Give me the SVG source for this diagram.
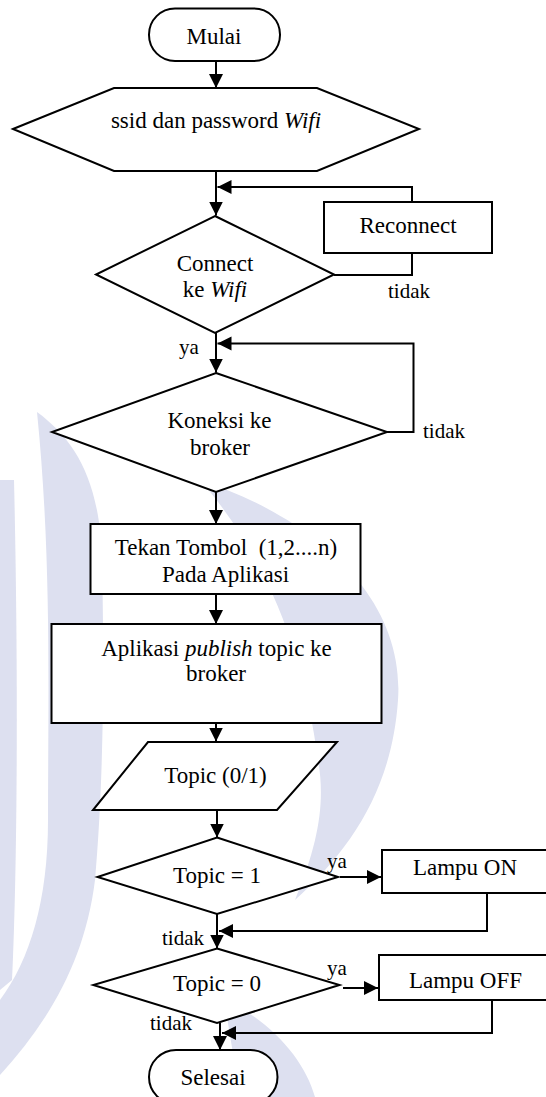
<svg xmlns="http://www.w3.org/2000/svg" width="546" height="1097" viewBox="0 0 546 1097">
<style>
.s{fill:#fff;stroke:#000;stroke-width:2}
.c{fill:none;stroke:#000;stroke-width:2}
.t{font-family:"Liberation Serif","Times New Roman",serif;font-size:23px;fill:#000;text-anchor:middle}
.l{font-family:"Liberation Serif","Times New Roman",serif;font-size:21px;fill:#000}
.i{font-style:italic}
.wm{fill:#dde0f0;stroke:none}
</style>
<defs>
<marker id="ah" markerUnits="userSpaceOnUse" markerWidth="15" markerHeight="15" refX="14" refY="7" orient="auto">
<path d="M0,0 L14,7 L0,14 Z" fill="#000"/>
</marker>
</defs>
<rect width="546" height="1097" fill="#fff"/>
<g id="watermark">
<path class="wm" d="M200,480 C320,520 405,600 398,700 C392,790 350,850 295,900 C320,840 325,800 318,760 C305,660 270,560 200,480 Z"/>
<path class="wm" d="M37,412 C75,440 100,480 102,560 C105,700 102,800 95,880 C85,960 50,1020 0,1075 L0,1000 C30,960 48,900 48,820 C48,700 52,560 37,412 Z"/>
<path class="wm" d="M0,480 L14,480 C18,650 18,850 12,980 L0,990 Z"/>
<path class="wm" d="M225,1000 C270,1020 305,1060 315,1097 L240,1097 C235,1060 228,1030 225,1000 Z"/>
</g>
<g id="connectors">
<path class="c" d="M216,61 V88" marker-end="url(#ah)"/>
<path class="c" d="M216,171 V215.5" marker-end="url(#ah)"/>
<path class="c" d="M412,202 V187 H217.5" marker-end="url(#ah)"/>
<path class="c" d="M334,275 H412 V253"/>
<path class="c" d="M216,333 V372.5" marker-end="url(#ah)"/>
<path class="c" d="M387,432 H413.5 V343.5 H217.5" marker-end="url(#ah)"/>
<path class="c" d="M216,492 V524" marker-end="url(#ah)"/>
<path class="c" d="M216,594 V624" marker-end="url(#ah)"/>
<path class="c" d="M216,723 V741.5" marker-end="url(#ah)"/>
<path class="c" d="M217,810 V837.5" marker-end="url(#ah)"/>
<path class="c" d="M340,877 H381" marker-end="url(#ah)"/>
<path class="c" d="M487,893 V931 H219" marker-end="url(#ah)"/>
<path class="c" d="M217,914 V948.5" marker-end="url(#ah)"/>
<path class="c" d="M343,988 H378" marker-end="url(#ah)"/>
<path class="c" d="M492,1000 V1033 H222" marker-end="url(#ah)"/>
<path class="c" d="M220,1023 V1050" marker-end="url(#ah)"/>
</g>
<g id="mulai">
<rect class="s" x="149" y="8.5" width="131" height="52.5" rx="26"/>
<text class="t" x="214" y="44">Mulai</text>
</g>
<g id="input-wifi">
<polygon class="s" points="13,129 114,88 317,88 419,129 317,171 114,171"/>
<text class="t" x="216" y="128">ssid dan password <tspan class="i">Wifi</tspan></text>
</g>
<g id="reconnect">
<rect class="s" x="324" y="202" width="168" height="51"/>
<text class="t" x="408" y="233">Reconnect</text>
</g>
<g id="connect-wifi">
<polygon class="s" points="215,216 334,274.5 215,333 96,274.5"/>
<text class="t" x="215" y="271">Connect</text>
<text class="t" x="215" y="297">ke <tspan class="i">Wifi</tspan></text>
</g>
<g id="koneksi-broker">
<polygon class="s" points="216,373 387,432 216,492 52,432"/>
<text class="t" x="219.5" y="428">Koneksi ke</text>
<text class="t" x="220" y="455">broker</text>
</g>
<g id="tekan-tombol">
<rect class="s" x="90.5" y="524" width="270" height="70"/>
<text class="t" x="226" y="555" xml:space="preserve">Tekan Tombol  (1,2....n)</text>
<text class="t" x="225.5" y="582">Pada Aplikasi</text>
</g>
<g id="publish">
<rect class="s" x="51.5" y="624" width="330" height="99"/>
<text class="t" x="216.5" y="656">Aplikasi <tspan class="i">publish</tspan> topic ke</text>
<text class="t" x="216" y="681">broker</text>
</g>
<g id="topic-input">
<polygon class="s" points="148,742 337,742 277,810 93,810"/>
<text class="t" x="215.5" y="783">Topic (0/1)</text>
</g>
<g id="topic1">
<polygon class="s" points="217,837.5 338,877 217,914 97.5,877"/>
<text class="t" x="217" y="883">Topic = 1</text>
</g>
<g id="lampu-on">
<rect class="s" x="382" y="850" width="170" height="43"/>
<text class="t" x="465" y="875">Lampu ON</text>
</g>
<g id="topic0">
<polygon class="s" points="217,948.5 339.5,985 217,1023 93.3,985"/>
<text class="t" x="217" y="991">Topic = 0</text>
</g>
<g id="lampu-off">
<rect class="s" x="379" y="955" width="175" height="45"/>
<text class="t" x="465.5" y="988">Lampu OFF</text>
</g>
<g id="selesai">
<rect class="s" x="149" y="1050" width="128.5" height="54" rx="27"/>
<text class="t" x="213" y="1085">Selesai</text>
</g>
<g id="labels">
<text class="l" x="388" y="298">tidak</text>
<text class="l" x="179" y="354">ya</text>
<text class="l" x="423" y="438">tidak</text>
<text class="l" x="327" y="868">ya</text>
<text class="l" x="162" y="945">tidak</text>
<text class="l" x="327" y="975">ya</text>
<text class="l" x="150" y="1030">tidak</text>
</g>
</svg>
